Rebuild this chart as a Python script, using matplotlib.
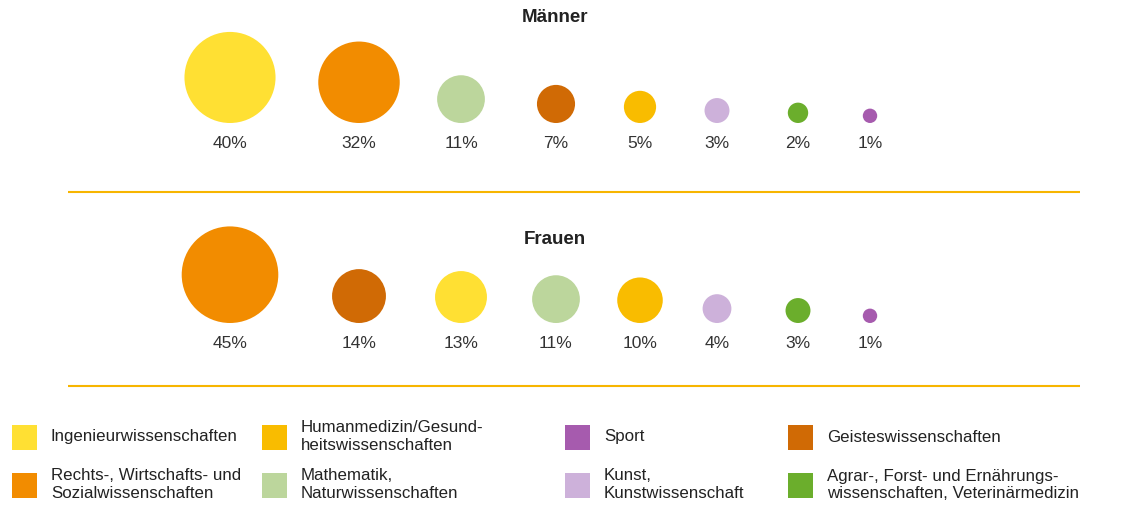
import matplotlib
matplotlib.use("Agg")
import matplotlib.pyplot as plt
from matplotlib.patches import Circle, Rectangle
import numpy as np

plt.rcParams['font.family'] = ['Liberation Sans', 'DejaVu Sans']

# Data
categories = ["Ingenieurwissenschaften", "Rechts-, Wirtschafts- und\nSozialwissenschaften",
              "Humanmedizin/Gesund-\nheitswissenschaften", "Mathematik,\nNaturwissenschaften",
              "Sport", "Kunst,\nKunstwissenschaft", "Geisteswissenschaften",
              "Agrar-, Forst- und Ernährungs-\nwissenschaften, Veterinärmedizin"]
keys = ["ing", "rws", "hum", "mat", "spo", "kun", "gei", "agr"]
colors = {"ing": "#FFE033", "rws": "#F28C00", "hum": "#F9BC00", "mat": "#BCD69C",
          "spo": "#A65BAE", "kun": "#CDB1DA", "gei": "#D06A05", "agr": "#6BAE2C"}

maenner_keys = ["ing", "rws", "mat", "gei", "hum", "kun", "agr", "spo"]
maenner_vals = [40, 32, 11, 7, 5, 3, 2, 1]
frauen_keys = ["rws", "gei", "ing", "mat", "hum", "kun", "agr", "spo"]
frauen_vals = [45, 14, 13, 11, 10, 4, 3, 1]

W, H = 1136, 505
fig = plt.figure(figsize=(W / 100, H / 100), dpi=100)
ax = fig.add_axes([0, 0, 1, 1])
ax.set_xlim(0, W)
ax.set_ylim(H, 0)
ax.set_aspect('equal')
ax.axis('off')

col_x = [230, 359, 461, 556, 640, 717, 798, 870]
k = 7.2

def draw_row(keys_, vals, base_y, label_y, title, title_y):
    ax.text(555, title_y, title, ha='center', va='center', fontsize=13.5,
            fontweight='bold', color='#222222')
    for x, key, v in zip(col_x, keys_, vals):
        r = k * np.sqrt(v)
        ax.add_patch(Circle((x, base_y - r), r, facecolor=colors[key], edgecolor='none'))
        ax.text(x, label_y, f"{v}%", ha='center', va='center', fontsize=12.5, color='#333333')

draw_row(maenner_keys, maenner_vals, 123, 143, "Männer", 18)
draw_row(frauen_keys, frauen_vals, 323, 343, "Frauen", 239)

for y in (192, 386):
    ax.plot([68, 1080], [y, y], color='#F7B500', lw=1.5, solid_capstyle='butt')

# Legend
leg_pos = {"ing": (12, 437), "rws": (12, 485), "hum": (262, 437), "mat": (262, 485),
           "spo": (565, 437), "kun": (565, 485), "gei": (788, 437), "agr": (788, 485)}
for key, cat in zip(keys, categories):
    x, y = leg_pos[key]
    ax.add_patch(Rectangle((x, y - 12), 25, 25, facecolor=colors[key], edgecolor='none'))
    ax.text(x + 39, y, cat, ha='left', va='center', fontsize=12.2, color='#222222',
            linespacing=1.25)

fig.savefig("out.png", dpi=100, facecolor='white')
